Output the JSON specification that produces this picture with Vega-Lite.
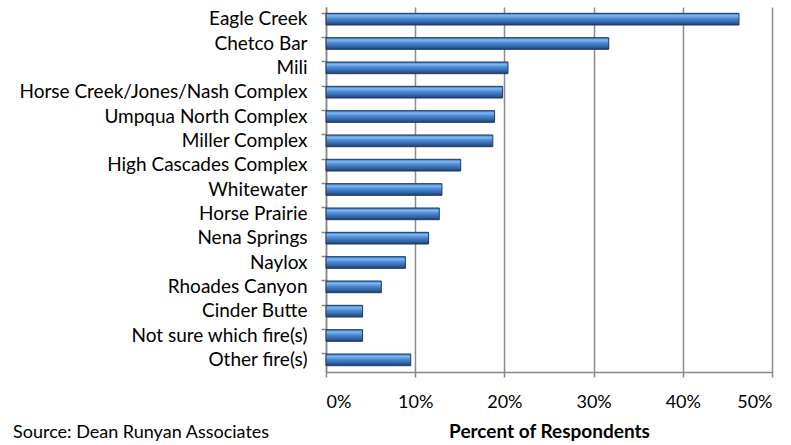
{
  "$schema": "https://vega.github.io/schema/vega-lite/v6.json",
  "width": 446,
  "height": 365,
  "autosize": {"type": "none"},
  "padding": {"left": 326, "top": 7, "right": 19, "bottom": 73},
  "background": "white",
  "config": {"view": {"stroke": null}, "font": "Lato"},
  "title": {
    "text": "Source: Dean Runyan Associates",
    "orient": "bottom",
    "anchor": "start",
    "frame": "group",
    "dx": -313,
    "offset": -17,
    "fontSize": 18,
    "fontWeight": "normal",
    "color": "#000000",
    "font": "Lato"
  },
  "data": {
    "values": [
      {"fire": "Eagle Creek", "pct": 46.3},
      {"fire": "Chetco Bar", "pct": 31.7},
      {"fire": "Mili", "pct": 20.4},
      {"fire": "Horse Creek/Jones/Nash Complex", "pct": 19.8},
      {"fire": "Umpqua North Complex", "pct": 18.9},
      {"fire": "Miller Complex", "pct": 18.7},
      {"fire": "High Cascades Complex", "pct": 15.1},
      {"fire": "Whitewater", "pct": 13.0},
      {"fire": "Horse Prairie", "pct": 12.7},
      {"fire": "Nena Springs", "pct": 11.5},
      {"fire": "Naylox", "pct": 8.9},
      {"fire": "Rhoades Canyon", "pct": 6.2},
      {"fire": "Cinder Butte", "pct": 4.1},
      {"fire": "Not sure which fire(s)", "pct": 4.1},
      {"fire": "Other fire(s)", "pct": 9.5}
    ]
  },
  "mark": {
    "type": "bar",
    "stroke": "#1d3b66",
    "strokeWidth": 1,
    "fill": {
      "x1": 0, "y1": 0, "x2": 0, "y2": 1,
      "gradient": "linear",
      "stops": [
        {"offset": 0, "color": "#3d6fb0"},
        {"offset": 0.2, "color": "#80b8f2"},
        {"offset": 0.45, "color": "#4c8ad6"},
        {"offset": 0.8, "color": "#2f5f9e"},
        {"offset": 1, "color": "#1e3f6e"}
      ]
    }
  },
  "encoding": {
    "y": {
      "field": "fire",
      "type": "nominal",
      "sort": null,
      "scale": {"paddingInner": 0.52, "paddingOuter": 0.26},
      "axis": {
        "title": null,
        "bandPosition": 0,
        "domainColor": "#888888",
        "domainWidth": 1.5,
        "tickColor": "#888888",
        "tickWidth": 1.5,
        "tickSize": 5,
        "labelPadding": 14,
        "labelFontSize": 19,
        "labelLimit": 400,
        "labelColor": "#000000",
        "labelFont": "Lato"
      }
    },
    "x": {
      "field": "pct",
      "type": "quantitative",
      "scale": {"domain": [0, 50]},
      "axis": {
        "values": [0, 10, 20, 30, 40, 50],
        "labelExpr": "datum.value + '%'",
        "title": "Percent of Respondents",
        "titleFontSize": 19,
        "titleFontWeight": "bold",
        "titleColor": "#000000",
        "titleFont": "Lato",
        "titlePadding": 11,
        "grid": true,
        "gridColor": "#8c8c8c",
        "gridWidth": 1.5,
        "domainColor": "#888888",
        "domainWidth": 1.5,
        "tickColor": "#888888",
        "tickWidth": 1.5,
        "tickSize": 5,
        "labelPadding": 16,
        "labelFontSize": 18,
        "labelColor": "#000000",
        "labelFont": "Lato"
      }
    }
  }
}
